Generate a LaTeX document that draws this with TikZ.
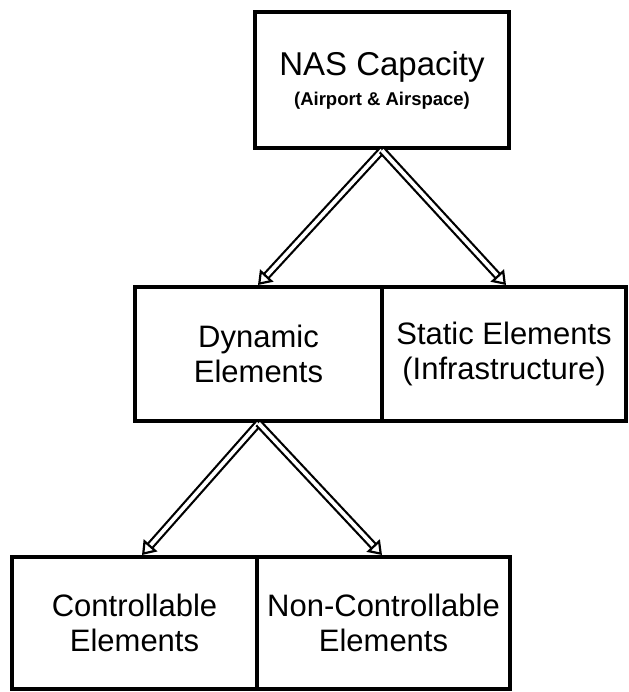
\documentclass[tikz,border=0pt]{standalone}
\usepackage{fontspec}
\setmainfont{Liberation Sans}
\usetikzlibrary{arrows.meta}
\begin{document}
\begin{tikzpicture}[x=1pt,y=-1pt,
  box/.style={draw=black, line width=4.5pt, fill=white, inner sep=0pt, align=center,
    font=\fontsize{31}{35}\selectfont},
  dblarrow/.style={draw=black, line width=2.2pt, double=white, double distance=3.8pt,
    -{Triangle[open,length=13pt,width=18pt]}}
]
\fill[white] (0,0) rectangle (628,692);
\useasboundingbox (0,0) rectangle (628,692);

\node[box, minimum width=254pt, minimum height=136pt] (nas) at (382,80)
  {{\fontsize{33}{36}\selectfont NAS Capacity}\\[-5pt]
   {\bfseries\fontsize{18.5}{20}\selectfont (Airport \& Airspace)}};

\node[box, minimum width=247pt, minimum height=134pt] (dyn) at (258.5,354)
  {Dynamic\\Elements};
\node[box, minimum width=244pt, minimum height=134pt] (stat) at (504,354)
  {Static Elements\\(Infrastructure)};

\node[box, minimum width=245pt, minimum height=132pt] (ctl) at (134.5,623)
  {Controllable\\Elements};
\node[box, minimum width=253pt, minimum height=132pt] (nctl) at (383.5,623)
  {Non-Controllable\\Elements};

\coordinate (t1) at (258,285);
\coordinate (t2) at (506,285);
\coordinate (t3) at (142,555);
\coordinate (t4) at (382,555);

\draw[dblarrow] (nas.south) -- (t1);
\draw[dblarrow] (nas.south) -- (t2);
\draw[dblarrow] (dyn.south) -- (t3);
\draw[dblarrow] (dyn.south) -- (t4);
\end{tikzpicture}
\end{document}
